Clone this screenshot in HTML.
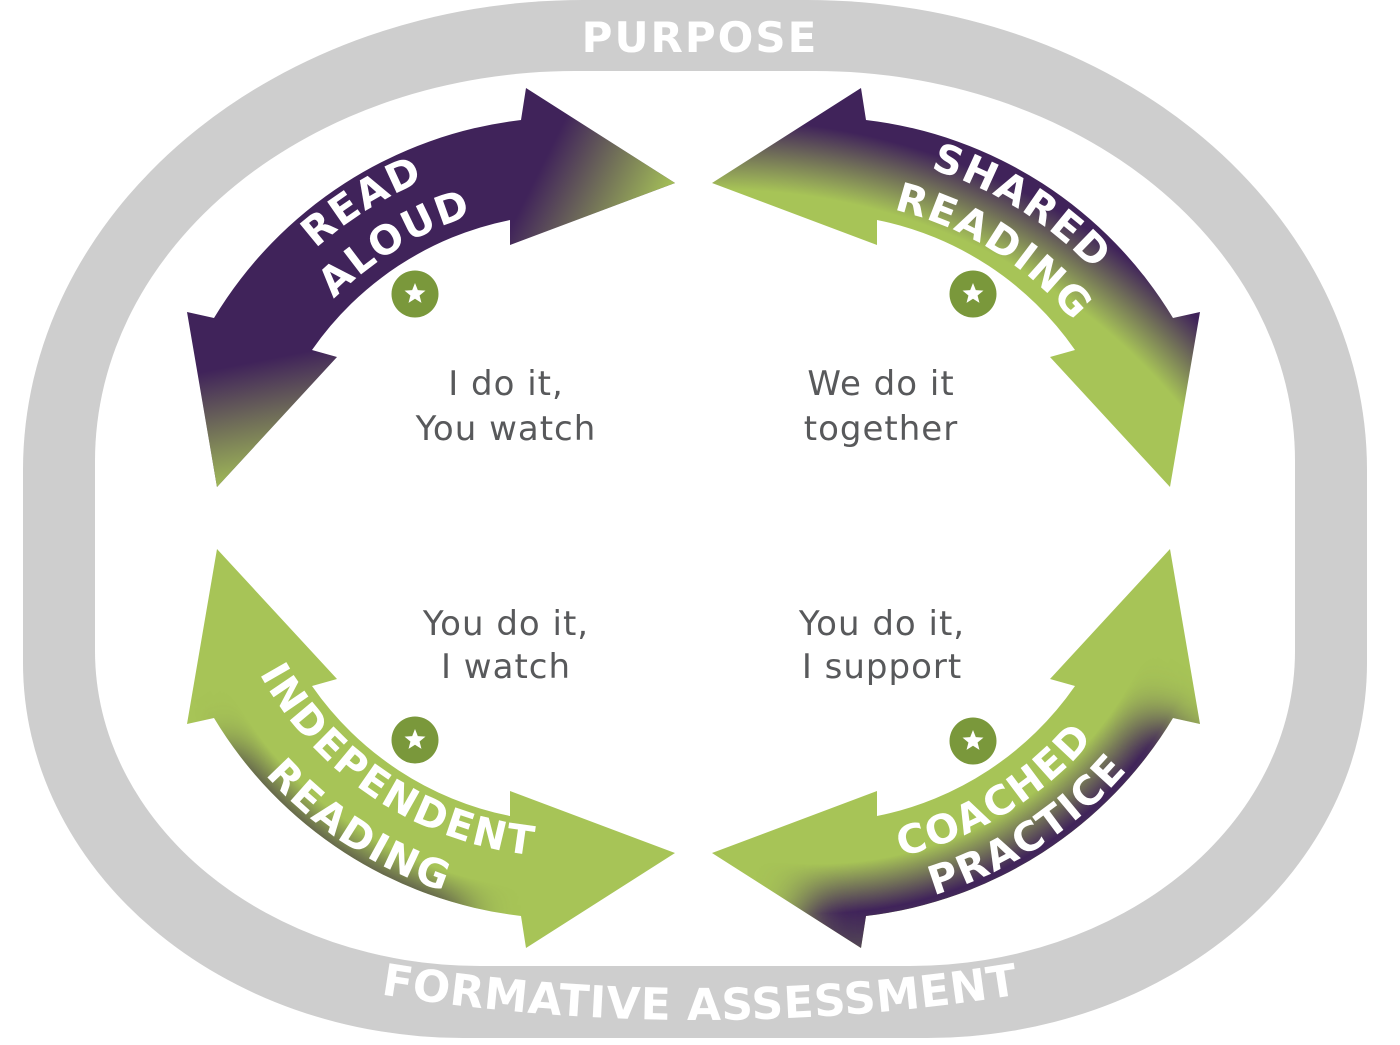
<!DOCTYPE html>
<html>
<head>
<meta charset="utf-8">
<style>
  html, body { margin: 0; padding: 0; background: #ffffff; }
  svg { display: block; }
  .lbl { font-family: "DejaVu Sans", "Liberation Sans", sans-serif; font-weight: bold; font-size: 40px; letter-spacing: 2px; fill: #ffffff; }
  .cap { font-family: "DejaVu Sans", "Liberation Sans", sans-serif; font-size: 34px; letter-spacing: 1px; fill: #58595b; }
  .ring { font-family: "DejaVu Sans", "Liberation Sans", sans-serif; font-weight: bold; fill: #ffffff; }
</style>
</head>
<body>
<svg width="1400" height="1045" viewBox="0 0 1400 1045" xmlns="http://www.w3.org/2000/svg">
  <defs>
    <linearGradient id="gTL1" gradientUnits="userSpaceOnUse" x1="552" y1="145" x2="668" y2="203">
      <stop offset="0" stop-color="#a7c457" stop-opacity="0"/>
      <stop offset="1" stop-color="#a7c457" stop-opacity="1"/>
    </linearGradient>
    <linearGradient id="gTL2" gradientUnits="userSpaceOnUse" x1="264" y1="360" x2="288" y2="482">
      <stop offset="0" stop-color="#a7c457" stop-opacity="0"/>
      <stop offset="1" stop-color="#a7c457" stop-opacity="1"/>
    </linearGradient>
    <radialGradient id="gTR" gradientUnits="userSpaceOnUse" cx="724" cy="780" r="700">
      <stop offset="0.843" stop-color="#a7c457"/>
      <stop offset="0.943" stop-color="#40235a"/>
    </radialGradient>

    <radialGradient id="gBRo" gradientUnits="userSpaceOnUse" cx="818" cy="504" r="450">
      <stop offset="0.80" stop-color="#40235a" stop-opacity="0"/>
      <stop offset="0.91" stop-color="#40235a" stop-opacity="1"/>
      <stop offset="1" stop-color="#4a3a55" stop-opacity="0.9"/>
    </radialGradient>
    <radialGradient id="gBLo" gradientUnits="userSpaceOnUse" cx="569" cy="504" r="450">
      <stop offset="0.86" stop-color="#56524a" stop-opacity="0"/>
      <stop offset="0.925" stop-color="#56524a" stop-opacity="0.85"/>
      <stop offset="0.96" stop-color="#56524a" stop-opacity="0"/>
    </radialGradient>

    <filter id="blurM" filterUnits="userSpaceOnUse" x="0" y="0" width="1400" height="1045">
      <feGaussianBlur stdDeviation="22"/>
    </filter>

    <mask id="mBR" maskUnits="userSpaceOnUse" x="0" y="0" width="1400" height="1045">
      <path d="M804,903.8 A400,400 0 0 0 1157.2,716" fill="none" stroke="#ffffff" stroke-width="170" filter="url(#blurM)"/>
    </mask>
    <mask id="mBL" maskUnits="userSpaceOnUse" x="0" y="0" width="1400" height="1045">
      <path d="M245,735 A400,400 0 0 0 470,890" fill="none" stroke="#ffffff" stroke-width="170" filter="url(#blurM)"/>
    </mask>

    <path id="tRead" d="M189.2,545.3 A380,380 0 0 1 747.4,196.5" fill="none"/>
    <path id="tAloud" d="M238.1,537.8 A331,331 0 0 1 729.5,242.5" fill="none"/>
    <path id="tShared" d="M639.6,196.5 A380,380 0 0 1 1197.8,545.3" fill="none"/>
    <path id="tReading1" d="M662.6,239.7 A331,331 0 0 1 1148.8,543.6" fill="none"/>
    <path id="tIndep" d="M216.7,482.4 A353,353 0 0 0 726.5,819.9" fill="none"/>
    <path id="tReading2" d="M162.6,482.7 A407,407 0 0 0 753.8,866.6" fill="none"/>
    <path id="tCoached" d="M645.3,822.1 A362,362 0 0 0 1179.9,494.5" fill="none"/>
    <path id="tPractice" d="M632.8,867.5 A408,408 0 0 0 1225.4,482.6" fill="none"/>
    <path id="tForm" d="M16,899.4 A2000,2000 0 0 0 1384,899.4" fill="none"/>
  </defs>

  <rect x="0" y="0" width="1400" height="1045" fill="#ffffff"/>

  <!-- Gray ring -->
  <path d="M583,0 H807 A560,470 0 0 1 1367,470 V663 A440,375 0 0 1 927,1038 H463 A440,375 0 0 1 23,663 V470 A560,470 0 0 1 583,0 Z" fill="#cecece"/>
  <path d="M575,71 H815 A480,390 0 0 1 1295,461 V651 A385,315 0 0 1 910,966 H480 A385,315 0 0 1 95,651 V461 A480,390 0 0 1 575,71 Z" fill="#ffffff"/>

  <text class="ring" x="700" y="52" text-anchor="middle" font-size="42" letter-spacing="2">PURPOSE</text>
  <text class="ring" font-size="44" letter-spacing="0.6" text-anchor="middle"><textPath href="#tForm" startOffset="50%">FORMATIVE ASSESSMENT</textPath></text>

  <!-- TL: READ ALOUD -->
  <path d="M521,120 L526,88 L675,183 L510,245 L510,220 A317,317 0 0 0 312,350 L337,357 L217,487 L187,312 L214,318 A415,415 0 0 1 521,120 Z" fill="#40235a"/>
  <path d="M521,120 L526,88 L675,183 L510,245 L510,220 A317,317 0 0 0 312,350 L337,357 L217,487 L187,312 L214,318 A415,415 0 0 1 521,120 Z" fill="url(#gTL1)"/>
  <path d="M521,120 L526,88 L675,183 L510,245 L510,220 A317,317 0 0 0 312,350 L337,357 L217,487 L187,312 L214,318 A415,415 0 0 1 521,120 Z" fill="url(#gTL2)"/>

  <!-- TR: SHARED READING -->
  <path d="M866,120 L861,88 L712,183 L877,245 L877,220 A317,317 0 0 1 1075,350 L1050,357 L1170,487 L1200,312 L1173,318 A415,415 0 0 0 866,120 Z" fill="url(#gTR)"/>

  <!-- BL: INDEPENDENT READING -->
  <path d="M521,916 L526,948 L675,853 L510,791 L510,816 A317,317 0 0 1 312,686 L337,679 L217,549 L187,724 L214,718 A415,415 0 0 0 521,916 Z" fill="#a7c457"/>
  <path d="M521,916 L526,948 L675,853 L510,791 L510,816 A317,317 0 0 1 312,686 L337,679 L217,549 L187,724 L214,718 A415,415 0 0 0 521,916 Z" fill="url(#gBLo)" mask="url(#mBL)"/>

  <!-- BR: COACHED PRACTICE -->
  <path d="M866,916 L861,948 L712,853 L877,791 L877,816 A317,317 0 0 0 1075,686 L1050,679 L1170,549 L1200,724 L1173,718 A415,415 0 0 1 866,916 Z" fill="#a7c457"/>
  <path d="M866,916 L861,948 L712,853 L877,791 L877,816 A317,317 0 0 0 1075,686 L1050,679 L1170,549 L1200,724 L1173,718 A415,415 0 0 1 866,916 Z" fill="url(#gBRo)" mask="url(#mBR)"/>

  <!-- Arrow labels -->
  <text class="lbl" text-anchor="middle"><textPath href="#tRead" startOffset="50%">READ</textPath></text>
  <text class="lbl" text-anchor="middle"><textPath href="#tAloud" startOffset="50%">ALOUD</textPath></text>
  <text class="lbl" text-anchor="middle"><textPath href="#tShared" startOffset="50%">SHARED</textPath></text>
  <text class="lbl" text-anchor="middle"><textPath href="#tReading1" startOffset="50%">READING</textPath></text>
  <text class="lbl" text-anchor="middle"><textPath href="#tIndep" startOffset="50%">INDEPENDENT</textPath></text>
  <text class="lbl" text-anchor="middle"><textPath href="#tReading2" startOffset="50%">READING</textPath></text>
  <text class="lbl" text-anchor="middle"><textPath href="#tCoached" startOffset="50%">COACHED</textPath></text>
  <text class="lbl" text-anchor="middle"><textPath href="#tPractice" startOffset="50%">PRACTICE</textPath></text>

  <!-- Star badges -->
  <g transform="translate(415,294)">
    <circle r="23.5" fill="#7a983b"/>
    <polygon points="0,-11 2.82,-3.88 10.46,-3.4 4.56,1.48 6.47,8.9 0,4.8 -6.47,8.9 -4.56,1.48 -10.46,-3.4 -2.82,-3.88" fill="#ffffff"/>
  </g>
  <g transform="translate(973,294)">
    <circle r="23.5" fill="#7a983b"/>
    <polygon points="0,-11 2.82,-3.88 10.46,-3.4 4.56,1.48 6.47,8.9 0,4.8 -6.47,8.9 -4.56,1.48 -10.46,-3.4 -2.82,-3.88" fill="#ffffff"/>
  </g>
  <g transform="translate(415,740)">
    <circle r="23.5" fill="#7a983b"/>
    <polygon points="0,-11 2.82,-3.88 10.46,-3.4 4.56,1.48 6.47,8.9 0,4.8 -6.47,8.9 -4.56,1.48 -10.46,-3.4 -2.82,-3.88" fill="#ffffff"/>
  </g>
  <g transform="translate(973,741)">
    <circle r="23.5" fill="#7a983b"/>
    <polygon points="0,-11 2.82,-3.88 10.46,-3.4 4.56,1.48 6.47,8.9 0,4.8 -6.47,8.9 -4.56,1.48 -10.46,-3.4 -2.82,-3.88" fill="#ffffff"/>
  </g>

  <!-- Captions -->
  <text class="cap" x="506" y="395" text-anchor="middle">I do it,</text>
  <text class="cap" x="506" y="440" text-anchor="middle">You watch</text>
  <text class="cap" x="881" y="395" text-anchor="middle">We do it</text>
  <text class="cap" x="881" y="440" text-anchor="middle">together</text>
  <text class="cap" x="506" y="635" text-anchor="middle">You do it,</text>
  <text class="cap" x="506" y="678" text-anchor="middle">I watch</text>
  <text class="cap" x="882" y="635" text-anchor="middle">You do it,</text>
  <text class="cap" x="882" y="678" text-anchor="middle">I support</text>
</svg>
</body>
</html>
